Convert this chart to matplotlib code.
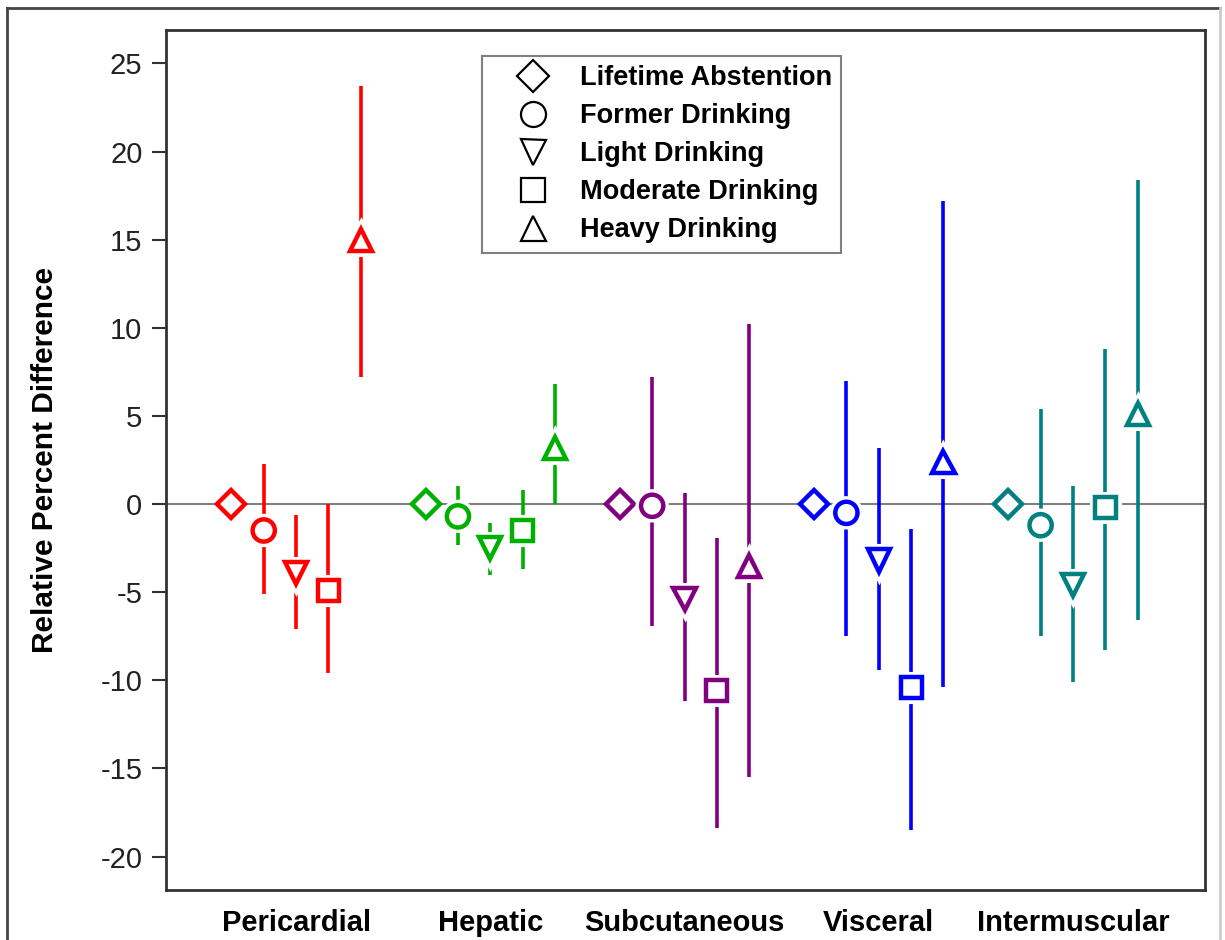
import numpy as np
import matplotlib
matplotlib.use('Agg')
import matplotlib.pyplot as plt
import matplotlib.patheffects as pe
from matplotlib.lines import Line2D

# categories and drinking levels
groups = ['Pericardial', 'Hepatic', 'Subcutaneous', 'Visceral', 'Intermuscular']
levels = ['Lifetime Abstention', 'Former Drinking', 'Light Drinking',
          'Moderate Drinking', 'Heavy Drinking']

# estimates and confidence limits (one list per depot)
pericardial_est = [0, -1.5, -3.9, -4.9, 15.0]
pericardial_lo = [0, -5.1, -7.1, -9.6, 7.2]
pericardial_hi = [0, 2.3, -0.6, 0.0, 23.7]

hepatic_est = [0, -0.7, -2.5, -1.5, 3.2]
hepatic_lo = [0, -2.3, -4.0, -3.7, 0.0]
hepatic_hi = [0, 1.0, -1.1, 0.8, 6.8]

subcutaneous_est = [0, -0.1, -5.4, -10.6, -3.5]
subcutaneous_lo = [0, -6.9, -11.2, -18.4, -15.5]
subcutaneous_hi = [0, 7.2, 0.6, -1.9, 10.2]

visceral_est = [0, -0.5, -3.2, -10.4, 2.4]
visceral_lo = [0, -7.5, -9.4, -18.5, -10.4]
visceral_hi = [0, 7.0, 3.2, -1.4, 17.2]

intermuscular_est = [0, -1.2, -4.6, -0.2, 5.1]
intermuscular_lo = [0, -7.5, -10.1, -8.3, -6.6]
intermuscular_hi = [0, 5.4, 1.0, 8.8, 18.4]

y_ticks = [-20, -15, -10, -5, 0, 5, 10, 15, 20, 25]

estimates = [pericardial_est, hepatic_est, subcutaneous_est, visceral_est, intermuscular_est]
lowers = [pericardial_lo, hepatic_lo, subcutaneous_lo, visceral_lo, intermuscular_lo]
uppers = [pericardial_hi, hepatic_hi, subcutaneous_hi, visceral_hi, intermuscular_hi]

colors = ['#ff0000', '#00b000', '#800080', '#0000ff', '#008080']
markers = ['D', 'o', 'v', 's', '^']
msizes = [14, 16, 16, 15, 16]

plt.rcParams['font.family'] = ['Liberation Sans', 'DejaVu Sans']

fig = plt.figure(figsize=(12.25, 9.4), dpi=100)
ax = fig.add_axes([0.1355, 0.0532, 0.8482, 0.9149])

ax.axhline(0, color='#808080', lw=1.5, zorder=1)

offsets = (np.arange(len(levels)) - 2) / 6.0
for g in range(len(groups)):
    for k in range(len(levels)):
        x = g + 1 + offsets[k]
        col = colors[g]
        if k > 0:
            ax.plot([x, x], [lowers[g][k], uppers[g][k]], color=col, lw=2.6,
                    solid_capstyle='butt', zorder=2)
            effects = [pe.withStroke(linewidth=8, foreground='white')]
        else:
            effects = None
        ax.plot([x], [estimates[g][k]], linestyle='none', marker=markers[k],
                ms=msizes[k], mfc='white', mec=col, mew=3.2, zorder=3,
                path_effects=effects)

ax.set_xlim(0.33, 5.68)
ax.set_ylim(-21.9, 26.9)
ax.set_xticks(range(1, len(groups) + 1))
ax.set_xticklabels(groups, fontsize=21, fontweight='bold')
ax.tick_params(axis='x', length=0, pad=14)
ax.set_yticks(y_ticks)
ax.set_yticklabels([str(t) for t in y_ticks], fontsize=21, color='#222222')
ax.tick_params(axis='y', length=10, width=1.5, color='#333333', pad=7)
ax.set_ylabel('Relative Percent Difference', fontsize=21.5, fontweight='bold')
ax.yaxis.set_label_coords(-0.103, 0.5)
for s in ax.spines.values():
    s.set_linewidth(2)
    s.set_color('#333333')

handles = [Line2D([], [], linestyle='none', marker=markers[k], ms=msizes[k] + 2,
                  mfc='white', mec='black', mew=1.6) for k in range(len(levels))]
leg = ax.legend(handles, levels, loc='upper left',
                bbox_to_anchor=(482 / 1225, 1 - 56 / 940),
                bbox_transform=fig.transFigure, borderaxespad=0,
                fancybox=False, framealpha=1, edgecolor='#808080',
                prop={'size': 19.5, 'weight': 'bold'}, handlelength=3.1,
                handletextpad=0.15, labelspacing=0.44, borderpad=0.35)
leg.get_frame().set_linewidth(1.5)

# outer frame around the whole figure
fig.add_artist(Line2D([7 / 1225, 7 / 1225], [0, 1 - 8 / 940], color='#444444', lw=2,
                      transform=fig.transFigure))
fig.add_artist(Line2D([7 / 1225, 1220 / 1225], [1 - 8 / 940, 1 - 8 / 940], color='#444444',
                      lw=2, transform=fig.transFigure))
fig.add_artist(Line2D([1220 / 1225, 1220 / 1225], [0, 1 - 8 / 940], color='#cccccc', lw=2,
                      transform=fig.transFigure))

fig.savefig('out.png', dpi=100)
